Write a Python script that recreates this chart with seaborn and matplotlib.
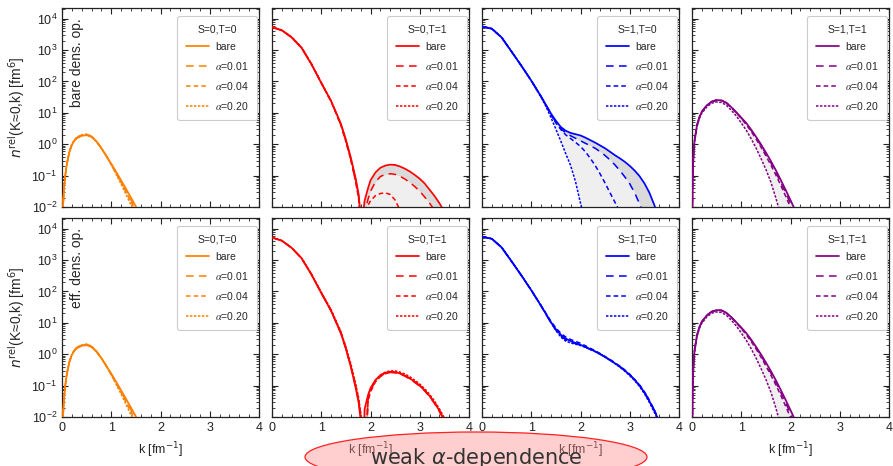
import numpy as np
import matplotlib
matplotlib.use("Agg")
import matplotlib.pyplot as plt
import seaborn as sns
from matplotlib.patches import Ellipse
from matplotlib.ticker import MultipleLocator, LogLocator, NullFormatter

# values, stored as log10 of n_rel(K~0,k) [fm^6]
# S=0,T=0 (same in both rows)
k_or = [0.0, 0.01, 0.02, 0.04, 0.07, 0.1, 0.15, 0.2, 0.25, 0.3, 0.4, 0.5,
        0.6, 0.7, 0.8, 0.9, 1.0, 1.1, 1.2, 1.3, 1.4, 1.5, 1.6, 1.7]
or_bare = [-6, -2.6, -2.0, -1.42, -0.95, -0.62, -0.25, -0.02, 0.11, 0.19, 0.27, 0.29,
           0.23, 0.08, -0.13, -0.37, -0.62, -0.88, -1.15, -1.42, -1.7, -1.98, -2.28, -2.6]
or_a01 = [-6, -2.6, -2.0, -1.42, -0.95, -0.62, -0.24, -0.01, 0.12, 0.21, 0.29, 0.31,
          0.25, 0.09, -0.12, -0.37, -0.63, -0.91, -1.19, -1.48, -1.77, -2.07, -2.38, -2.7]
or_a04 = [-6, -2.6, -2.0, -1.42, -0.95, -0.62, -0.24, -0.01, 0.12, 0.21, 0.29, 0.31,
          0.25, 0.09, -0.12, -0.38, -0.65, -0.93, -1.22, -1.52, -1.83, -2.15, -2.45, -2.8]
or_a20 = [-6, -2.6, -2.0, -1.42, -0.95, -0.61, -0.23, 0.0, 0.13, 0.22, 0.3, 0.32,
          0.26, 0.1, -0.12, -0.38, -0.66, -0.96, -1.27, -1.6, -1.93, -2.27, -2.6, -2.95]

# S=0,T=1
k_red = [0.0, 0.2, 0.4, 0.6, 0.8, 1.0, 1.2, 1.4,
         1.5, 1.6, 1.7, 1.76, 1.8, 1.82, 1.84, 1.88, 1.95, 2.0,
         2.1, 2.2, 2.3, 2.4, 2.5, 2.6, 2.7, 2.8, 2.9, 3.0, 3.1, 3.2, 3.3, 3.4, 3.5, 3.6]
red_bare_top = [3.73, 3.63, 3.4, 3.07, 2.55, 1.95, 1.38, 0.65,
                0.15, -0.42, -1.1, -1.6, -2.3, -4.0, -2.4, -1.8, -1.4, -1.15,
                -0.9, -0.75, -0.68, -0.65, -0.66, -0.71, -0.78, -0.87, -0.98, -1.1, -1.25, -1.45, -1.65, -1.88, -2.15, -2.5]
red_a01_top = [3.73, 3.63, 3.41, 3.08, 2.56, 1.96, 1.37, 0.62,
               0.1, -0.48, -1.18, -1.7, -2.5, -3.5, -4.0, -2.2, -1.75, -1.5,
               -1.2, -1.03, -0.96, -0.94, -0.96, -1.02, -1.11, -1.22, -1.35, -1.5, -1.68, -1.88, -2.1, -2.35, -2.65, -3.0]
red_a04_top = [3.73, 3.63, 3.41, 3.08, 2.56, 1.96, 1.36, 0.6,
               0.08, -0.5, -1.2, -1.75, -2.6, -3.5, -4.0, -2.4, -1.95, -1.8,
               -1.64, -1.57, -1.55, -1.6, -1.78, -2.1, -2.5, -2.9, -3.3, -3.6, -3.9, -4.2, -4.5, -4.8, -5.1, -5.4]
red_a20_top = [3.74, 3.64, 3.42, 3.09, 2.57, 1.97, 1.38, 0.62,
               0.12, -0.46, -1.15, -1.68, -2.5, -3.5, -4.5, -4.0, -3.6, -3.4,
               -3.2, -3.1, -3.05, -3.05, -3.1, -3.2, -3.3, -3.45, -3.6, -3.8, -4.0, -4.2, -4.4, -4.6, -4.8, -5.0]
red_bare_bot = [3.72, 3.62, 3.39, 3.06, 2.54, 1.95, 1.38, 0.66,
                0.17, -0.4, -1.08, -1.55, -2.1, -2.6, -4.0, -1.75, -1.3, -1.08,
                -0.82, -0.67, -0.59, -0.56, -0.57, -0.61, -0.68, -0.77, -0.88, -1.0, -1.15, -1.33, -1.55, -1.8, -2.1, -2.45]
red_a01_bot = [3.72, 3.62, 3.39, 3.06, 2.55, 1.96, 1.39, 0.67,
               0.18, -0.38, -1.05, -1.5, -2.0, -2.5, -3.0, -4.0, -1.45, -1.15,
               -0.86, -0.7, -0.61, -0.58, -0.59, -0.63, -0.7, -0.79, -0.9, -1.02, -1.17, -1.35, -1.57, -1.83, -2.13, -2.5]
red_a04_bot = [3.72, 3.62, 3.39, 3.06, 2.55, 1.96, 1.4, 0.69,
               0.2, -0.35, -1.0, -1.45, -1.9, -2.3, -2.8, -3.5, -1.5, -1.2,
               -0.88, -0.71, -0.62, -0.58, -0.58, -0.62, -0.68, -0.77, -0.88, -1.0, -1.15, -1.33, -1.54, -1.79, -2.08, -2.42]
red_a20_bot = [3.72, 3.62, 3.39, 3.07, 2.56, 1.98, 1.42, 0.72,
               0.24, -0.3, -0.95, -1.4, -1.85, -2.3, -2.9, -4.0, -1.35, -1.1,
               -0.83, -0.66, -0.57, -0.53, -0.53, -0.57, -0.63, -0.72, -0.83, -0.95, -1.1, -1.28, -1.49, -1.74, -2.03, -2.38]

# S=1,T=0
k_bl = [0.0, 0.2, 0.4, 0.6, 0.8, 1.0, 1.2,
        1.3, 1.4, 1.5, 1.6, 1.7, 1.8, 1.9, 2.0, 2.1, 2.2,
        2.3, 2.4, 2.5, 2.6, 2.7, 2.8, 2.9, 3.0, 3.1, 3.2,
        3.3, 3.4, 3.5, 3.6, 3.7]
bl_bare_top = [3.75, 3.68, 3.4, 2.95, 2.5, 2.03, 1.52,
               1.25, 0.98, 0.75, 0.55, 0.43, 0.36, 0.32, 0.28, 0.21, 0.13,
               0.05, -0.04, -0.13, -0.24, -0.35, -0.45, -0.56, -0.69, -0.84, -1.02,
               -1.25, -1.55, -1.94, -2.4, -2.9]
bl_a01_top = [3.75, 3.68, 3.4, 2.95, 2.5, 2.03, 1.52,
              1.25, 0.96, 0.7, 0.5, 0.36, 0.27, 0.19, 0.11, 0.03, -0.05,
              -0.13, -0.24, -0.36, -0.5, -0.66, -0.84, -1.04, -1.26, -1.55, -1.9,
              -2.3, -2.7, -3.1, -3.5, -3.9]
bl_a04_top = [3.75, 3.68, 3.4, 2.95, 2.5, 2.03, 1.52,
              1.24, 0.93, 0.68, 0.47, 0.3, 0.18, 0.06, -0.07, -0.24, -0.45,
              -0.68, -0.95, -1.24, -1.55, -1.85, -2.15, -2.45, -2.75, -3.05, -3.35,
              -3.65, -3.95, -4.25, -4.55, -4.85]
bl_a20_top = [3.76, 3.69, 3.41, 2.96, 2.5, 2.02, 1.5,
              1.2, 0.85, 0.48, 0.1, -0.3, -0.68, -1.2, -1.88, -2.5, -3.1,
              -3.7, -4.3, -4.9, -5.5, -6, -6, -6, -6, -6, -6,
              -6, -6, -6, -6, -6]
bl_bare_bot = [3.75, 3.68, 3.4, 2.96, 2.51, 2.04, 1.54,
               1.28, 1.02, 0.8, 0.62, 0.5, 0.42, 0.36, 0.3, 0.23, 0.16,
               0.09, 0.0, -0.09, -0.19, -0.29, -0.4, -0.52, -0.66, -0.82, -1.0,
               -1.23, -1.5, -1.8, -2.15, -2.6]
bl_a01_bot = [3.75, 3.68, 3.4, 2.96, 2.51, 2.04, 1.54,
              1.27, 1.0, 0.77, 0.58, 0.46, 0.39, 0.34, 0.29, 0.23, 0.16,
              0.09, 0.01, -0.08, -0.18, -0.28, -0.39, -0.51, -0.65, -0.81, -0.99,
              -1.21, -1.48, -1.79, -2.14, -2.6]
bl_a04_bot = [3.75, 3.68, 3.4, 2.96, 2.51, 2.04, 1.55,
              1.3, 1.05, 0.84, 0.67, 0.55, 0.47, 0.41, 0.35, 0.27, 0.19,
              0.11, 0.02, -0.07, -0.17, -0.27, -0.38, -0.5, -0.64, -0.8, -0.98,
              -1.2, -1.47, -1.78, -2.12, -2.55]
bl_a20_bot = [3.75, 3.68, 3.41, 2.97, 2.52, 2.05, 1.55,
              1.29, 1.01, 0.76, 0.55, 0.42, 0.36, 0.32, 0.28, 0.22, 0.15,
              0.08, 0.0, -0.09, -0.19, -0.3, -0.41, -0.54, -0.68, -0.84, -1.03,
              -1.26, -1.54, -1.85, -2.2, -2.65]

# S=1,T=1 (same in both rows)
k_pu = [0.0, 0.01, 0.02, 0.03, 0.05, 0.1, 0.15, 0.2,
        0.3, 0.4, 0.5, 0.6, 0.7, 0.8, 0.9, 1.0, 1.1, 1.2,
        1.3, 1.4, 1.5, 1.6, 1.7, 1.8, 1.9, 2.0, 2.1, 2.2]
pu_bare = [-6, -1.5, -0.75, -0.35, 0.1, 0.6, 0.87, 1.04,
           1.24, 1.36, 1.41, 1.4, 1.32, 1.18, 1.02, 0.85, 0.68, 0.47,
           0.24, 0.0, -0.26, -0.53, -0.82, -1.13, -1.45, -1.78, -2.12, -2.5]
pu_a01 = [-6, -1.5, -0.75, -0.35, 0.1, 0.6, 0.87, 1.04,
          1.24, 1.36, 1.41, 1.4, 1.32, 1.18, 1.01, 0.84, 0.66, 0.45,
          0.21, -0.04, -0.31, -0.59, -0.89, -1.21, -1.54, -1.89, -2.25, -2.65]
pu_a04 = [-6, -1.5, -0.75, -0.35, 0.1, 0.6, 0.86, 1.03,
          1.23, 1.35, 1.4, 1.39, 1.31, 1.17, 1.0, 0.82, 0.63, 0.41,
          0.17, -0.09, -0.37, -0.66, -0.97, -1.3, -1.65, -2.01, -2.4, -2.8]
pu_a20 = [-6, -1.55, -0.8, -0.4, 0.05, 0.55, 0.82, 0.99,
          1.19, 1.31, 1.35, 1.33, 1.24, 1.08, 0.9, 0.68, 0.45, 0.18,
          -0.12, -0.45, -0.8, -1.2, -1.7, -2.25, -2.85, -3.5, -4.2, -5.0]

titles = ["S=0,T=0", "S=0,T=1", "S=1,T=0", "S=1,T=1"]
colors = ["#ff8000", "#ff0000", "#0000ff", "#850085"]
labels = ["bare", r"$\alpha$=0.01", r"$\alpha$=0.04", r"$\alpha$=0.20"]
row_names = ["bare dens. op.", "eff. dens. op."]

rows = [
    [(k_or, [or_bare, or_a01, or_a04, or_a20]),
     (k_red, [red_bare_top, red_a01_top, red_a04_top, red_a20_top]),
     (k_bl, [bl_bare_top, bl_a01_top, bl_a04_top, bl_a20_top]),
     (k_pu, [pu_bare, pu_a01, pu_a04, pu_a20])],
    [(k_or, [or_bare, or_a01, or_a04, or_a20]),
     (k_red, [red_bare_bot, red_a01_bot, red_a04_bot, red_a20_bot]),
     (k_bl, [bl_bare_bot, bl_a01_bot, bl_a04_bot, bl_a20_bot]),
     (k_pu, [pu_bare, pu_a01, pu_a04, pu_a20])],
]

line_styles = ["-", (0, (5, 3.5)), (0, (3, 2)), (0, (1.6, 1))]
line_widths = [1.25, 1.1, 1.1, 1.1]

sns.set_theme(style="ticks")
plt.rcParams["font.family"] = ["Liberation Sans", "DejaVu Sans"]
plt.rcParams["axes.edgecolor"] = "#222222"
plt.rcParams["axes.linewidth"] = 0.9

FW, FH = 893, 466
fig = plt.figure(figsize=(FW / 100, FH / 100), dpi=100)

lefts = [62, 272, 482, 692]
tops = [8, 218]
W, H = 197, 199

for r, row in enumerate(rows):
    for c, (k, curves) in enumerate(row):
        ax = fig.add_axes([lefts[c] / FW, 1 - (tops[r] + H) / FH, W / FW, H / FH])
        ax.set_yscale("log")
        vals = [10 ** np.array(v, dtype=float) for v in curves]

        # grey bands between the bare curve and the alpha curves
        ax.fill_between(k, vals[0], vals[3], color="#efefef", lw=0, zorder=1)
        ax.fill_between(k, vals[0], vals[1], color="#dadada", lw=0, zorder=1)

        for v, lab, ls, lw in zip(vals, labels, line_styles, line_widths):
            sns.lineplot(x=k, y=v, ax=ax, color=colors[c], linestyle=ls, lw=lw,
                         label=lab, zorder=3, errorbar=None, sort=False)

        ax.set_xlim(0, 4)
        ax.set_ylim(1e-2, 2.2e4)
        ax.xaxis.set_major_locator(MultipleLocator(1))
        ax.xaxis.set_minor_locator(MultipleLocator(0.2))
        ax.yaxis.set_major_locator(LogLocator(base=10, numticks=10))
        ax.yaxis.set_minor_locator(LogLocator(base=10, subs=np.arange(2, 10), numticks=20))
        ax.yaxis.set_minor_formatter(NullFormatter())
        ax.tick_params(which="both", direction="in", top=True, right=True,
                       labelsize=9, colors="#222222")
        ax.tick_params(which="major", length=4, width=0.8)
        ax.tick_params(which="minor", length=2, width=0.6)

        if r == 0:
            ax.tick_params(labelbottom=False)
            ax.set_xlabel("")
        else:
            ax.set_xlabel(r"k [fm$^{-1}$]", fontsize=9, labelpad=5)
        if c == 0:
            ax.set_ylabel(r"$n^{\rm rel}$(K≈0,k) [fm$^6$]", fontsize=10, labelpad=3)
            ax.text(0.075, 0.95, row_names[r], transform=ax.transAxes, rotation=90,
                    ha="center", va="top", fontsize=10)
        else:
            ax.tick_params(labelleft=False)
            ax.set_ylabel("")

        leg = ax.legend(title=titles[c], loc="upper right", bbox_to_anchor=(0.99, 0.96),
                        borderaxespad=0, fontsize=7.5, title_fontsize=7.5,
                        frameon=True, fancybox=True, framealpha=1, edgecolor="#cccccc",
                        borderpad=0.8, labelspacing=0.75, handlelength=2.2,
                        handletextpad=0.6)
        leg.get_frame().set_linewidth(0.8)
        for t in leg.get_texts():
            t.set_math_fontfamily("stix")

# highlight at the bottom
fig.add_artist(Ellipse((476 / FW, 1 - 457 / FH), 342 / FW, 50 / FH,
                       transform=fig.transFigure, facecolor=(1.0, 0.55, 0.55, 0.42),
                       edgecolor="#ff2020", lw=0.9, zorder=5))
fig.text(476 / FW, 1 - 458 / FH, r"weak $\alpha$-dependence", ha="center", va="center",
         fontsize=15, color="#333333", family="DejaVu Sans", zorder=6)

fig.savefig("out.png", dpi=100)
